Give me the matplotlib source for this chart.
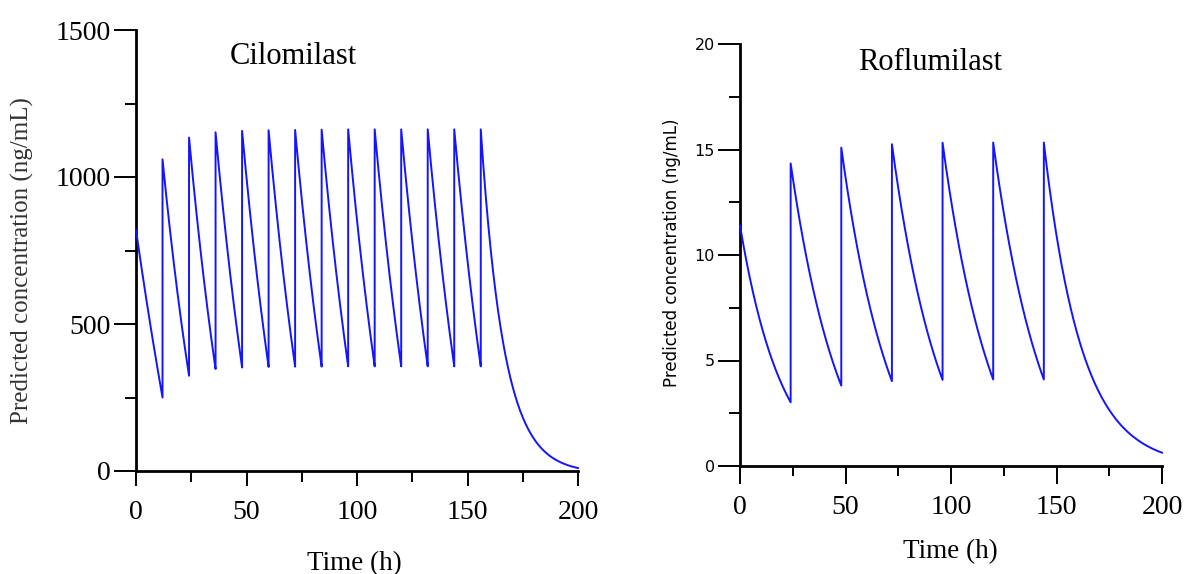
import numpy as np
import matplotlib
matplotlib.use("Agg")
import matplotlib.pyplot as plt
from matplotlib.ticker import MultipleLocator

# ---------------- data ----------------
# Cilomilast: dosing every 12 h.  Each decay segment is described by the
# concentration at its start, at its midpoint and at its end.
cilo_seg_start_t = [0, 12, 24, 36, 48, 60, 72, 84, 96, 108, 120, 132, 144, 156]
cilo_seg_end_t = [12, 24, 36, 48, 60, 72, 84, 96, 108, 120, 132, 144, 156, 200]
cilo_seg_start_c = [820, 1060, 1134, 1152, 1157, 1159, 1160, 1161, 1162, 1162, 1162, 1162, 1162, 1162]
cilo_seg_mid_c = [520, 652, 697, 710, 712, 713, 714, 715, 715, 715, 715, 715, 715, 135]
cilo_seg_end_c = [250, 324, 347, 352, 354, 355, 355, 356, 356, 356, 356, 356, 356, 10]

# Roflumilast: dosing every 24 h
rof_seg_start_t = [0, 24, 48, 72, 96, 120, 144]
rof_seg_end_t = [24, 48, 72, 96, 120, 144, 200]
rof_seg_start_c = [11.4, 14.34, 15.09, 15.25, 15.32, 15.33, 15.33]
rof_seg_mid_c = [6.0, 7.8, 8.2, 8.3, 8.35, 8.35, 3.15]
rof_seg_end_c = [3.02, 3.81, 4.02, 4.08, 4.10, 4.10, 0.63]

x_ticks = [0, 50, 100, 150, 200]
cilo_yticks = [0, 500, 1000, 1500]
rof_yticks = [0, 5, 10, 15, 20]

LINE = "#1414ff"
SERIF = "Liberation Serif"
SANS = "DejaVu Sans"


def build_curve(t_a, t_b, c_a, c_m, c_b, n=80):
    """Smooth monotone decay through the start, mid and end concentrations of each segment."""
    ts, cs = [], []
    for ta, tb, ca, cm, cb in zip(t_a, t_b, c_a, c_m, c_b):
        m = (cm - cb) / (ca - cb)          # relative height at midpoint
        q = (m / (1 - m)) ** 2              # curvature parameter
        s = np.linspace(0, 1, n)
        f = (q ** s - q) / (1 - q)
        ts.extend(ta + s * (tb - ta))
        cs.extend(cb + (ca - cb) * f)
    return np.array(ts), np.array(cs)


fig = plt.figure(figsize=(11.85, 5.74), dpi=100)

# ---------------- left panel ----------------
ax1 = fig.add_axes([136 / 1185, 1 - 471 / 574, 442 / 1185, 441 / 574])
t, c = build_curve(cilo_seg_start_t, cilo_seg_end_t, cilo_seg_start_c, cilo_seg_mid_c,
                   cilo_seg_end_c)
ax1.plot(t, c, color=LINE, lw=1.4, clip_on=False, zorder=3)
ax1.set_xlim(0, 200)
ax1.set_ylim(0, 1500)
ax1.set_xticks(x_ticks)
ax1.set_yticks(cilo_yticks)
ax1.xaxis.set_minor_locator(MultipleLocator(25))
ax1.yaxis.set_minor_locator(MultipleLocator(250))
for lab in ax1.get_xticklabels() + ax1.get_yticklabels():
    lab.set_fontfamily(SERIF)
    lab.set_fontsize(20)
ax1.tick_params(axis="y", which="major", length=16, width=1.4, direction="out", pad=2)
ax1.tick_params(axis="y", which="minor", length=8, width=1.4, direction="out")
ax1.tick_params(axis="x", which="major", length=11, width=1.4, direction="out", pad=10)
ax1.tick_params(axis="x", which="minor", length=8, width=1.4, direction="out")
ax1.set_xlabel("Time (h)", fontfamily=SERIF, fontsize=19.5)
ax1.xaxis.set_label_coords(0.495, -0.209)
ax1.xaxis.label.set_va("center")
ax1.set_ylabel("Predicted concentration (ng/mL)", fontfamily=SERIF, fontsize=18,
               color="#333333")
ax1.yaxis.set_label_coords(-0.258, 0.478)
ax1.yaxis.label.set_va("center")
ax1.text(0.355, 0.939, "Cilomilast", transform=ax1.transAxes, ha="center", va="center",
         fontfamily=SERIF, fontsize=22)

# ---------------- right panel ----------------
ax2 = fig.add_axes([740 / 1185, 1 - 466 / 574, 422 / 1185, 422 / 574])
t, c = build_curve(rof_seg_start_t, rof_seg_end_t, rof_seg_start_c, rof_seg_mid_c,
                   rof_seg_end_c)
ax2.plot(t, c, color=LINE, lw=1.4, clip_on=False, zorder=3)
ax2.set_xlim(0, 200)
ax2.set_ylim(0, 20)
ax2.set_xticks(x_ticks)
ax2.set_yticks(rof_yticks)
ax2.xaxis.set_minor_locator(MultipleLocator(25))
ax2.yaxis.set_minor_locator(MultipleLocator(2.5))
for lab in ax2.get_xticklabels():
    lab.set_fontfamily(SERIF)
    lab.set_fontsize(20)
for lab in ax2.get_yticklabels():
    lab.set_fontfamily(SANS)
    lab.set_fontsize(11.5)
ax2.tick_params(axis="y", which="major", length=16, width=1.4, direction="out", pad=2)
ax2.tick_params(axis="y", which="minor", length=8, width=1.4, direction="out")
ax2.tick_params(axis="x", which="major", length=13, width=1.4, direction="out", pad=8)
ax2.tick_params(axis="x", which="minor", length=7, width=1.4, direction="out")
ax2.set_xlabel("Time (h)", fontfamily=SERIF, fontsize=19.5)
ax2.xaxis.set_label_coords(0.498, -0.204)
ax2.xaxis.label.set_va("center")
ax2.set_ylabel("Predicted concentration (ng/mL)", fontfamily=SANS, fontsize=12)
ax2.yaxis.set_label_coords(-0.161, 0.505)
ax2.yaxis.label.set_va("center")
ax2.text(0.45, 0.957, "Roflumilast", transform=ax2.transAxes, ha="center", va="center",
         fontfamily=SERIF, fontsize=22)

for ax in (ax1, ax2):
    ax.spines["top"].set_visible(False)
    ax.spines["right"].set_visible(False)
    ax.spines["left"].set_linewidth(2)
    ax.spines["bottom"].set_linewidth(2)
    ax.set_facecolor("none")

fig.savefig("out.png", dpi=100)
